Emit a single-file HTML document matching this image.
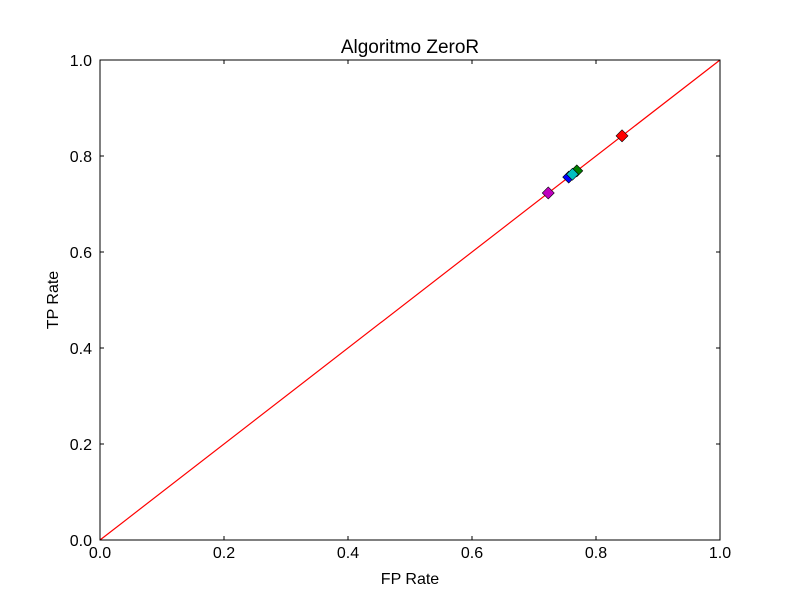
<!DOCTYPE html>
<html><head><meta charset="utf-8"><style>body{margin:0;background:#fff}svg{display:block;font-family:"Liberation Sans","DejaVu Sans",sans-serif}</style></head>
<body>
<svg id="chart" width="800" height="600">
<rect width="800" height="600" fill="#fff"/>
</svg>
<script>
const tickValues=[0,0.2,0.4,0.6,0.8,1.0];
const tickLabels=["0.0","0.2","0.4","0.6","0.8","1.0"];
const pointNames=["class-a","class-b","class-c","class-d","class-e"];
const fpRates=[0.756,0.769,0.842,0.762,0.723];
const tpRates=[0.756,0.769,0.842,0.762,0.723];
const pointColors=["#0000ff","#008000","#ff0000","#00bfbf","#bf00bf"];
const diagX=[0,1];
const diagY=[0,1];
const L=100,R=720,T=60,B=540;
const sx=v=>L+v*(R-L), sy=v=>B-v*(B-T);
const svg=document.getElementById('chart');
const NS='http://www.w3.org/2000/svg';
function mk(tag,attrs,parent){const e=document.createElementNS(NS,tag);for(const k in attrs)e.setAttribute(k,attrs[k]);(parent||svg).appendChild(e);return e;}
const line=mk('line',{x1:sx(diagX[0]),y1:sy(diagY[0]),x2:sx(diagX[1]),y2:sy(diagY[1]),stroke:'#ff0000','stroke-width':1.2});


for(let i=0;i<fpRates.length;i++){
 const cx=sx(fpRates[i]),cy=sy(tpRates[i]),r=6;
 const p=mk('polygon',{points:`${cx},${cy-r} ${cx+r},${cy} ${cx},${cy+r} ${cx-r},${cy}`,fill:pointColors[i],stroke:'#000','stroke-width':0.6});
 
 
}
const frame=mk('rect',{x:L,y:T,width:R-L,height:B-T,fill:'none',stroke:'#000','stroke-width':1});


tickValues.forEach((v,i)=>{
 const x=sx(v),y=sy(v);
 mk('line',{x1:x,y1:B,x2:x,y2:B-4,stroke:'#000'});
 mk('line',{x1:x,y1:T,x2:x,y2:T+4,stroke:'#000'});
 mk('line',{x1:L,y1:y,x2:L+4,y2:y,stroke:'#000'});
 mk('line',{x1:R,y1:y,x2:R-4,y2:y,stroke:'#000'});
 const tx=mk('text',{x:x,y:B+18,'text-anchor':'middle','font-size':16});tx.textContent=tickLabels[i];
 
 
 const ty=mk('text',{x:L-8,y:y+6,'text-anchor':'end','font-size':16});ty.textContent=tickLabels[i];
 
 
});
const title=mk('text',{x:410,y:53,'text-anchor':'middle','font-size':19});title.textContent='Algoritmo ZeroR';


const xt=mk('text',{x:410,y:584,'text-anchor':'middle','font-size':16});xt.textContent='FP Rate';


const yt=mk('text',{x:58,y:300,'text-anchor':'middle','font-size':16,transform:'rotate(-90 58 300)'});yt.textContent='TP Rate';


</script>
</body></html>
